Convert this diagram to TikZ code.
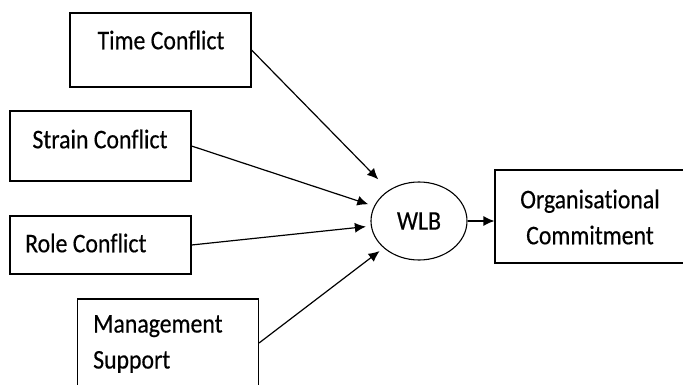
\documentclass[tikz,border=0pt]{standalone}
\usepackage{fontspec}
\setmainfont[FakeStretch=0.88, FakeBold=0.4, Ligatures=NoCommon]{Carlito}
\usetikzlibrary{arrows.meta,shapes.geometric}
\begin{document}
\begin{tikzpicture}[x=1pt,y=-1pt,
    >={Latex[length=11pt,width=10pt]},
    every node/.style={font=\fontsize{27}{36}\selectfont}]
\useasboundingbox (0,0) rectangle (683,385);
\begin{scope}[every node/.style={draw, line width=1.1pt, inner sep=0pt, minimum width=181pt}]
    \node[minimum height=74pt] (time) at (160.5,50) {};
    \node[minimum height=70pt] (strain) at (100.5,146) {};
    \node[minimum height=58pt] (role) at (100.5,245) {};
    \node[minimum height=88pt] (mgmt) at (168,343) {};
    \node[minimum width=196pt, minimum height=93pt] (oc) at (593,216.5) {};
\end{scope}

\node (timetxt) at (161,40) {Time Conflict};
\node (straintxt) at (100,139) {Strain Conflict};
\node[anchor=west, inner sep=0pt] (roletxt) at (25,243) {Role Conflict};
\node[anchor=north west, align=left, inner sep=0pt] (mgmttxt) at (93,315) {Management\\Support};
\node[align=center] (octxt) at (590,217) {Organisational\\Commitment};

\node[ellipse, draw, line width=1.1pt, minimum width=96pt, minimum height=78pt] (wlb) at (419,221) {WLB};

\draw[->, line width=1.2pt, shorten >=15pt] (time.east) -- (wlb);
\draw[->, line width=1.2pt, shorten >=6pt] (strain.east) -- (wlb);
\draw[->, line width=1.2pt, shorten >=5pt] (role.east) -- (wlb);
\draw[->, line width=1.2pt, shorten >=5pt] (mgmt.east) -- (wlb);
\draw[->, line width=1.2pt] (wlb.east) -- (wlb.east -| oc.west);
\end{tikzpicture}
\end{document}
